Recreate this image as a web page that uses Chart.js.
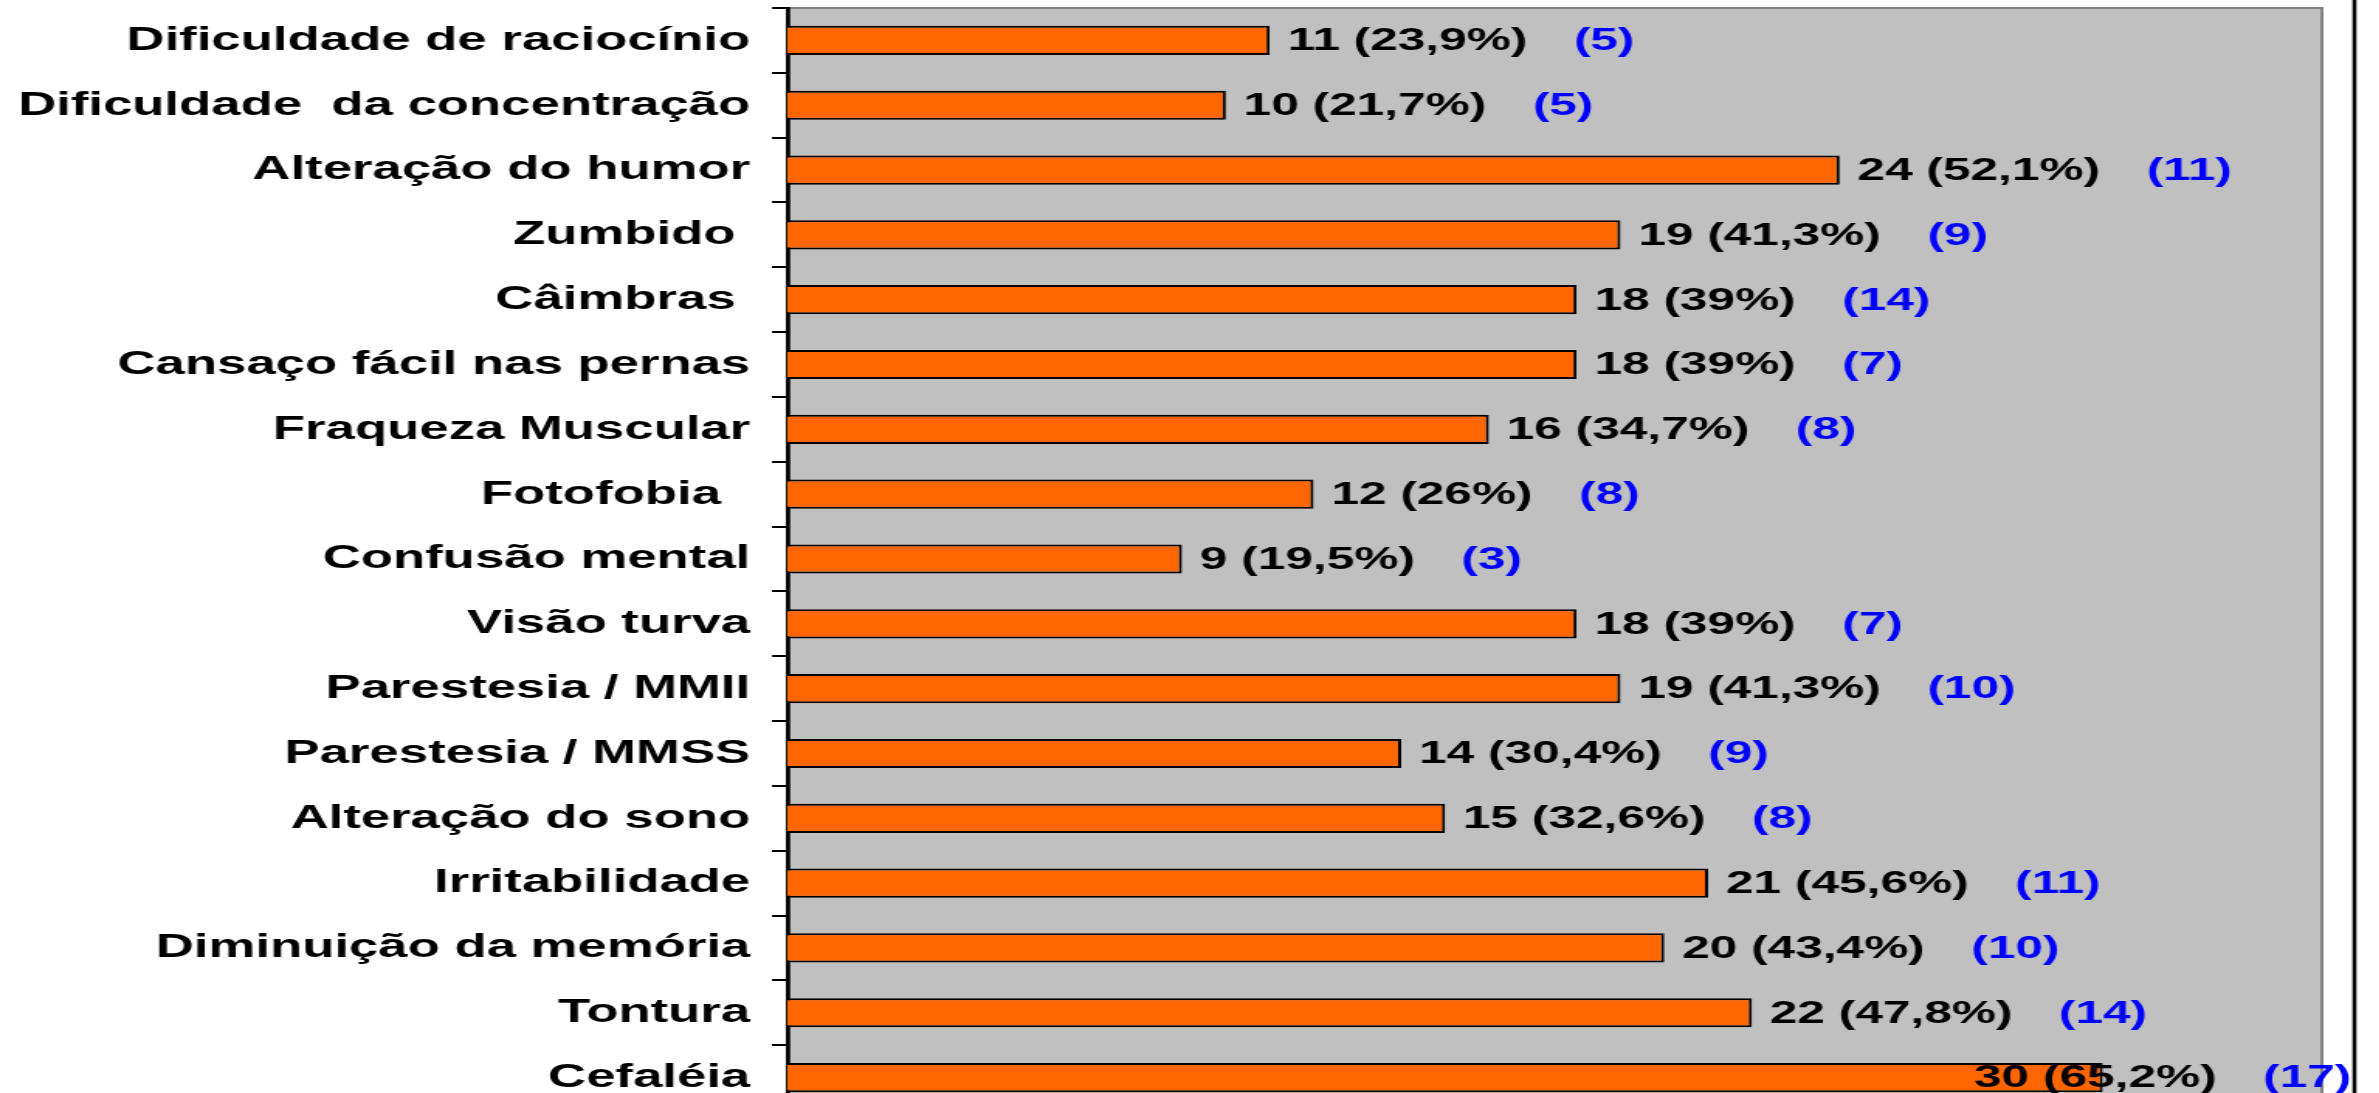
<!DOCTYPE html>
<html lang="pt">
<head>
<meta charset="utf-8">
<title>Sintomas</title>
<script src="https://cdn.jsdelivr.net/npm/chart.js@4.4.1/dist/chart.umd.min.js"></script>
<style>
    html, body {
        margin: 0;
        padding: 0;
        background: #ffffff;
        overflow: hidden;
    }
    /* the original slide chart is stretched sideways, so we draw narrow and scale x */
    #wrap {
        position: absolute;
        left: 0;
        top: 0;
        width: 1535px;
        height: 1130px;
        transform: scaleX(1.55);
        transform-origin: 0 0;
    }
</style>
</head>
<body>
<div id="wrap"><canvas id="sintomasChart"></canvas></div>
<script>
// Data (top to bottom, as on the slide)
const categories = [
    'Dificuldade de raciocínio',
    'Dificuldade  da concentração',
    'Alteração do humor',
    'Zumbido ',
    'Câimbras ',
    'Cansaço fácil nas pernas',
    'Fraqueza Muscular',
    'Fotofobia  ',
    'Confusão mental',
    'Visão turva',
    'Parestesia / MMII',
    'Parestesia / MMSS',
    'Alteração do sono',
    'Irritabilidade',
    'Diminuição da memória',
    'Tontura',
    'Cefaléia'
];
const counts = [11, 10, 24, 19, 18, 18, 16, 12, 9, 18, 19, 14, 15, 21, 20, 22, 30];
const percents = [23.9, 21.7, 52.1, 41.3, 39, 39, 34.7, 26, 19.5, 39, 41.3, 30.4, 32.6, 45.6, 43.4, 47.8, 65.2];
const blueCounts = [5, 5, 11, 9, 14, 7, 8, 8, 3, 7, 10, 9, 8, 11, 10, 14, 17];

const FONT = '"Liberation Sans", Arial, sans-serif';
const PLOT_LEFT = 508;     // left edge of the grey plot (before the x stretch)
const RIGHT_RULE = 1519;   // black vertical rule at the right side

function fmtPct(v) {
    return String(v).replace('.', ',') + '%';
}

// grey plot background + right black rule
const plotBackground = {
    id: 'plotBackground',
    beforeDraw(chart) {
        const { ctx, chartArea: a } = chart;
        ctx.save();
        ctx.fillStyle = '#c0c0c0';
        ctx.fillRect(a.left, a.top, a.right - a.left, a.bottom - a.top);
        ctx.strokeStyle = '#808080';
        ctx.lineWidth = 2;
        ctx.strokeRect(a.left, a.top, a.right - a.left, a.bottom - a.top);
        ctx.strokeStyle = '#000000';
        ctx.lineWidth = 2.6;
        ctx.beginPath();
        ctx.moveTo(RIGHT_RULE, 0);
        ctx.lineTo(RIGHT_RULE, chart.height);
        ctx.stroke();
        ctx.restore();
    }
};

// "n (x%)" in black and "(m)" in blue after each bar
const barLabels = {
    id: 'barLabels',
    afterDatasetsDraw(chart) {
        const ctx = chart.ctx;
        const bars = chart.getDatasetMeta(0).data;
        ctx.save();
        ctx.font = 'bold 32px ' + FONT;
        ctx.textBaseline = 'middle';
        ctx.textAlign = 'left';
        bars.forEach((bar, i) => {
            const black = counts[i] + ' (' + fmtPct(percents[i]) + ')';
            const blue = '(' + blueCounts[i] + ')';
            const wBlack = ctx.measureText(black).width;
            const wBlue = ctx.measureText(blue).width;
            let x = bar.x + 11.5;
            const gap = 30;
            const end = x + wBlack + gap + wBlue;
            if (end > RIGHT_RULE - 2) {
                x -= end - (RIGHT_RULE - 2);
            }
            const y = bar.y + 1;
            ctx.fillStyle = '#000000';
            ctx.fillText(black, x, y);
            ctx.fillStyle = '#0000ff';
            ctx.fillText(blue, x + wBlack + gap, y);
        });
        ctx.restore();
    }
};

const ctx = document.getElementById('sintomasChart');

new Chart(ctx, {
    type: 'bar',
    data: {
        labels: categories,
        datasets: [{
            data: counts,
            backgroundColor: '#ff6600',
            borderColor: '#000000',
            borderWidth: 2,
            borderSkipped: 'start',
            barPercentage: 0.45,
            categoryPercentage: 1
        }]
    },
    options: {
        indexAxis: 'y',
        responsive: true,
        maintainAspectRatio: false,
        animation: false,
        layout: {
            padding: { left: 0, right: 37, top: 8, bottom: 20 }
        },
        plugins: {
            legend: { display: false },
            tooltip: { enabled: false }
        },
        scales: {
            x: {
                display: false,
                min: 0,
                max: 35
            },
            y: {
                offset: true,
                afterFit(scale) {
                    scale.width = PLOT_LEFT;
                    // labels sit inside their categories, no extra room needed
                    scale.paddingTop = 0;
                    scale.paddingBottom = 0;
                },
                border: {
                    display: true,
                    color: '#000000',
                    width: 2.8
                },
                grid: {
                    offset: true,
                    drawOnChartArea: false,
                    drawTicks: true,
                    tickLength: 10,
                    color: '#000000',
                    lineWidth: 2
                },
                ticks: {
                    color: '#000000',
                    padding: 14,
                    autoSkip: false,
                    font: { family: FONT, size: 34, weight: 'bold' }
                }
            }
        }
    },
    plugins: [plotBackground, barLabels]
});
</script>
</body>
</html>
